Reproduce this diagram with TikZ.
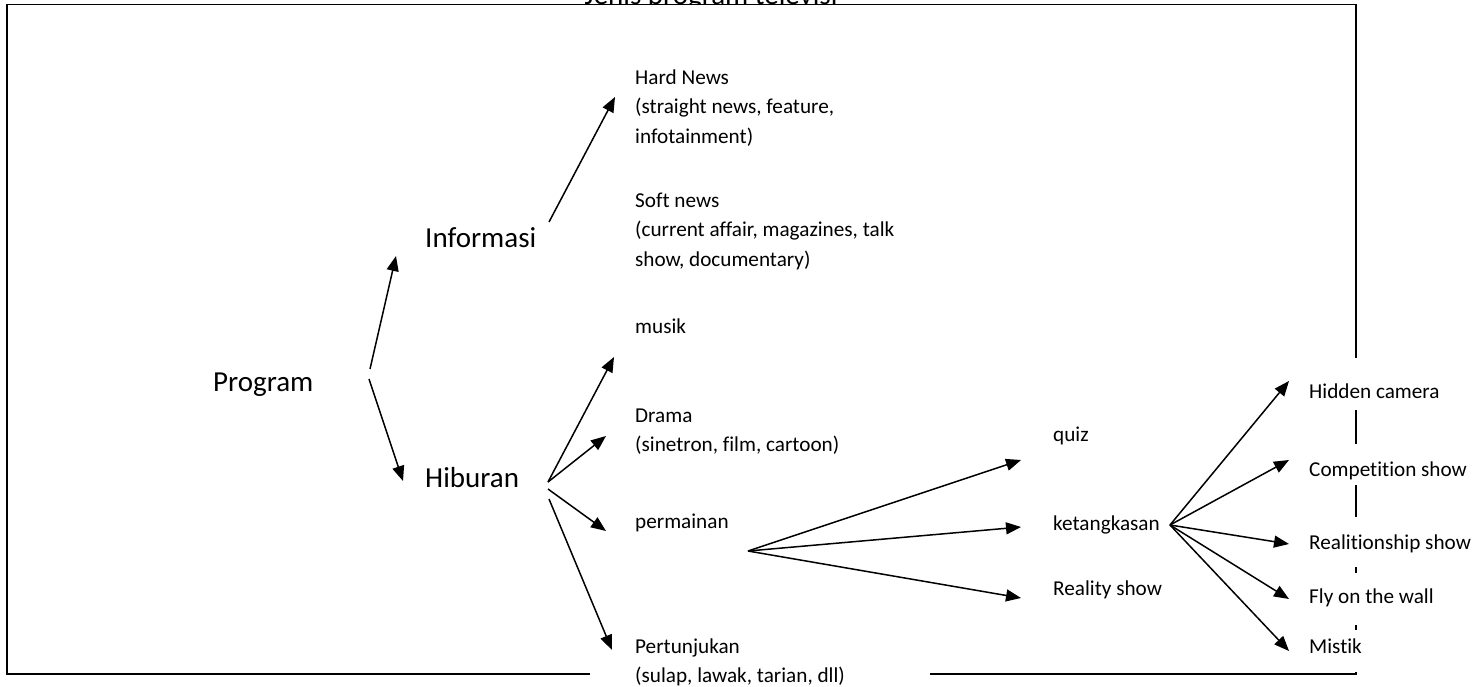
\documentclass[tikz,border=0pt]{standalone}
\usepackage{fontspec}
\setmainfont{Carlito}[Ligatures={NoCommon,NoContextual,NoRare},Contextuals=NoAlternate]
\usetikzlibrary{arrows.meta}
\begin{document}
\begin{tikzpicture}[x=1pt,y=-1pt,
  small/.style={font=\fontsize{21.2}{29.5}\selectfont, anchor=base west, inner sep=0pt},
  block/.style={font=\fontsize{21.2}{29.5}\selectfont, anchor=north west, inner sep=0pt, align=left},
  big/.style={font=\fontsize{29}{34}\selectfont, anchor=base west, inner sep=0pt},
  arr/.style={line width=1.5pt, -{Triangle[length=15pt,width=12pt]}},
  frame/.style={line width=1.4pt},
  cover/.style={fill=white, inner ysep=0pt, inner xsep=17pt, text width=170pt, align=flush left,
    anchor=base west, font=\fontsize{21.2}{24}\selectfont}]
\useasboundingbox (0,0) rectangle (1475,686);
% frame
\draw[frame] (7,4.5) rectangle (1356,674);
% clipped title
\begin{scope}
  \clip (0,0) rectangle (1475,4.6);
  \node[big, anchor=base] (title) at (711,4) {Jenis program televisi};
\end{scope}
% main nodes
\node[big] (prog) at (213,391) {Program};
\node[big] (info) at (425,247) {Informasi};
\node[big] (hib) at (425,487) {Hiburan};
\node[block] (hard) at (635,63.35) {\strut Hard News\\(straight news, feature,\\infotainment)};
\node[block] (soft) at (635,186.35) {\strut Soft news\\(current affair, magazines, talk\\show, documentary)};
\node[small] (musik) at (635,333) {musik};
\node[block] (drama) at (635,401.35) {\strut Drama\\(sinetron, film, cartoon)};
\node[small] (perm) at (635,528) {permainan};
\node[block, align=flush left, fill=white, inner xsep=45pt, text width=250pt] (pert) at (590,632.35) {\strut Pertunjukan\\(sulap, lawak, tarian, dll)};
\node[small] (quiz) at (1053,441) {quiz};
\node[small] (ketang) at (1053,530) {ketangkasan};
\node[small] (reality) at (1053,595) {Reality show};
% right column (white boxes cover the frame)
\node[cover, text height=40pt, text depth=12pt] (hidden) at (1292,398) {Hidden camera};
\node[cover, text height=32pt, text depth=9pt] (comp) at (1292,476) {Competition show};
\node[cover, text height=32pt, text depth=18pt] (relat) at (1292,549) {Realitionship show};
\node[cover, text height=30pt, text depth=22pt] (fly) at (1292,603) {Fly on the wall};
\node[cover, text height=23pt, text depth=19pt] (mistik) at (1292,653) {Mistik};
% connector end points
\coordinate (prog-a) at (370,369);
\coordinate (prog-b) at (369,379);
\coordinate (info-in) at (396,256);
\coordinate (hib-in) at (403,481);
\coordinate (info-out) at (549,222);
\coordinate (hard-in) at (615,97);
\coordinate (hib-a) at (548,482);
\coordinate (hib-b) at (548,489);
\coordinate (hib-c) at (549,499);
\coordinate (musik-in) at (614,357);
\coordinate (drama-in) at (606,436);
\coordinate (perm-in) at (606,531);
\coordinate (pert-in) at (612,650);
\coordinate (perm-out) at (748,551);
\coordinate (quiz-in) at (1021,460);
\coordinate (ketang-in) at (1021,527);
\coordinate (reality-in) at (1021,598);
\coordinate (ketang-out) at (1170,525);
\coordinate (hidden-in) at (1289,381);
\coordinate (comp-in) at (1289,460);
\coordinate (relat-in) at (1289,544);
\coordinate (fly-in) at (1289,599);
\coordinate (mistik-in) at (1289,651);
% connectors
\draw[arr] (prog-a) -- (info-in);
\draw[arr] (prog-b) -- (hib-in);
\draw[arr] (info-out) -- (hard-in);
\draw[arr] (hib-a) -- (musik-in);
\draw[arr] (hib-a) -- (drama-in);
\draw[arr] (hib-b) -- (perm-in);
\draw[arr] (hib-c) -- (pert-in);
\draw[arr] (perm-out) -- (quiz-in);
\draw[arr] (perm-out) -- (ketang-in);
\draw[arr] (perm-out) -- (reality-in);
\draw[arr] (ketang-out) -- (hidden-in);
\draw[arr] (ketang-out) -- (comp-in);
\draw[arr] (ketang-out) -- (relat-in);
\draw[arr] (ketang-out) -- (fly-in);
\draw[arr] (ketang-out) -- (mistik-in);
\end{tikzpicture}
\end{document}
